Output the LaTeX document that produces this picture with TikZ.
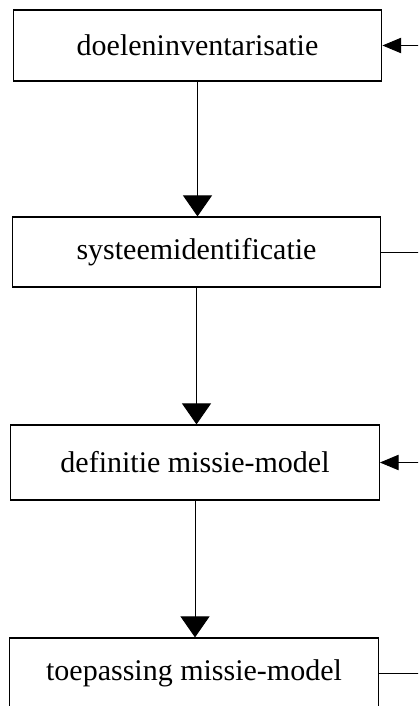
\documentclass[tikz,border=0pt]{standalone}
\usepackage{fontspec}
\setmainfont{Liberation Serif}
\usetikzlibrary{arrows.meta}
\begin{document}
\begin{tikzpicture}[x=0.75pt,y=-0.75pt,
  stepbox/.style={draw, line width=0.9pt, inner sep=0pt, minimum width=276.5pt,
    font=\fontsize{22.5}{27}\selectfont},
  flow/.style={line width=0.7pt, -{Triangle[width=21.75pt,length=15.75pt]}},
  sideflow/.style={line width=0.7pt, -{Triangle[width=11.5pt,length=14pt]}},
  sideline/.style={line width=0.7pt}]
\useasboundingbox (0,0) rectangle (418,706);
\clip (0,0) rectangle (418,706);
\node[stepbox, minimum height=53.25pt] (b1) at (197.5,45.5) {doeleninventarisatie};
\node[stepbox, minimum height=52.5pt] (b2) at (196.5,252) {systeemidentificatie};
\node[stepbox, minimum height=56.25pt] (b3) at (195,462.5) {definitie missie-model};
\node[stepbox, minimum height=52.5pt] (b4) at (194,673) {toepassing missie-model};
\draw[flow] (b1.south) -- (b1.south |- b2.north);
\draw[flow] (b2.south) -- (b2.south |- b3.north);
\draw[flow] (b3.south) -- (b3.south |- b4.north);
\coordinate (r1) at (420,45.5);
\coordinate (r2) at (420,252);
\coordinate (r3) at (420,462.5);
\coordinate (r4) at (420,673);
\draw[sideflow] (r1) -- (b1.east);
\draw[sideline] (b2.east) -- (r2);
\draw[sideflow] (r3) -- (b3.east);
\draw[sideline] (b4.east) -- (r4);
\end{tikzpicture}
\end{document}
